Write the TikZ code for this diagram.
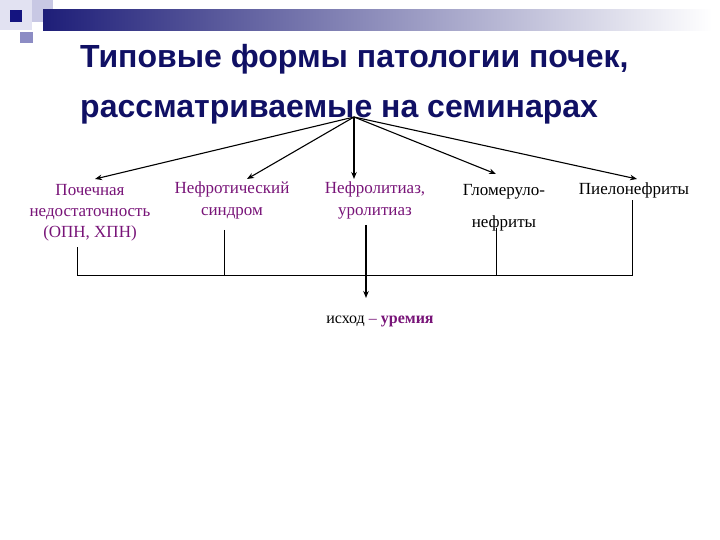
\documentclass[tikz,border=0pt]{standalone}
\usepackage{fontspec}
\setmainfont{Liberation Serif}
\newfontfamily\titlefont{Liberation Sans}
\usetikzlibrary{arrows.meta}
\definecolor{navy}{RGB}{16,16,100}
\definecolor{purp}{RGB}{120,20,120}
\definecolor{sqlight}{RGB}{226,226,242}
\definecolor{sqmid}{RGB}{200,200,228}
\definecolor{sqdark}{RGB}{20,20,128}
\definecolor{sqblue}{RGB}{140,140,196}
\definecolor{barblue}{RGB}{30,30,120}
\begin{document}
\begin{tikzpicture}[x=1pt,y=-1pt,
  lbl/.style={font=\fontsize{17}{21}\selectfont, align=center, inner sep=0pt, anchor=base},
  ttl/.style={font=\titlefont\bfseries\fontsize{32}{38}\selectfont, text=navy, inner sep=0pt, anchor=base west},
  arr/.style={-{Stealth[length=7pt,width=5.5pt]}, line width=1.1pt},
  ln/.style={line width=1pt}]
\useasboundingbox (0,0) rectangle (720,540);
% decoration
\fill[sqlight] (0,0) rectangle (32,30);
\fill[sqmid] (32,0) rectangle (53,22);
\fill[sqdark] (10,10) rectangle (22,22);
\fill[sqblue] (20,32) rectangle (33,43);
\shade[left color=barblue, right color=white] (43,10) rectangle (712,31);
% title
\node[ttl] (t1) at (80,68) {Типовые формы патологии почек,};
\node[ttl] (t2) at (80,118) {рассматриваемые на семинарах};
\coordinate (src) at (354,117);
% labels (base anchor = baseline of last line)
\node[lbl, text=purp] (n1) at (90,237) {Почечная\\недостаточность\\(ОПН, ХПН)};
\node[lbl, text=purp] (n2) at (232,215) {Нефротический\\синдром};
\node[lbl, text=purp] (n3) at (375,215) {Нефролитиаз,\\уролитиаз};
\node[lbl, font=\fontsize{17}{32}\selectfont] (n4) at (504,227) {Гломеруло-\\нефриты};
\node[lbl] (n5) at (634,195) {Пиелонефриты};
\node[anchor=base, inner sep=0pt, font=\fontsize{16}{20}\selectfont] (out) at (380,323) {исход \textcolor{purp}{– \bfseries уремия}};
% arrows from title
\coordinate (a1) at (95,179);
\coordinate (a2) at (247,179);
\coordinate (a3) at (354,179);
\coordinate (a4) at (496,174);
\coordinate (a5) at (637,179);
\foreach \t in {a1,a2,a3,a4,a5} \draw[arr] (src) -- (\t);
% bracket
\coordinate (b1) at (77,247);
\coordinate (b2) at (224,230);
\coordinate (b3) at (366,225);
\coordinate (b4) at (496,228);
\coordinate (b5) at (632,200);
\coordinate (h1) at (77,275);
\coordinate (h5) at (632,275);
\draw[ln] (b1) -- (h1) -- (h5) -- (b5);
\draw[ln] (b2) -- (224,275);
\draw[ln] (b4) -- (496,275);
\draw[-{Stealth[length=7pt,width=5.5pt]}, line width=1.6pt] (b3) -- (366,298);
\end{tikzpicture}
\end{document}
